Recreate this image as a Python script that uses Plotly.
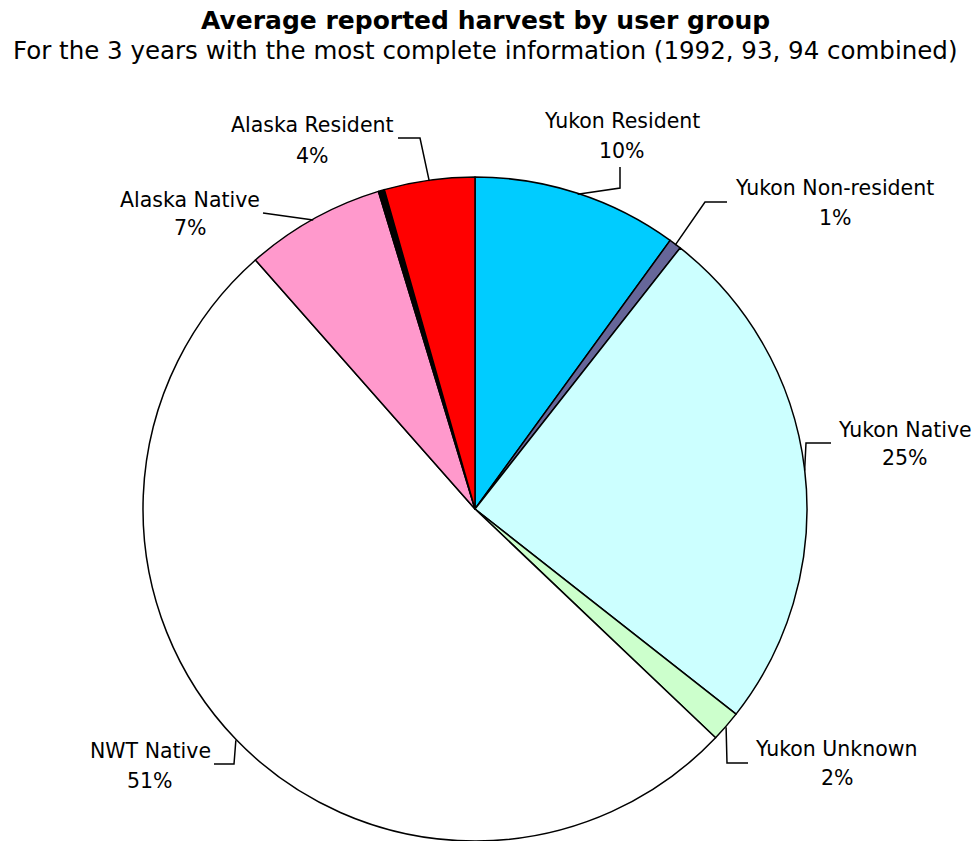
import math
import plotly.graph_objects as go

# Average reported harvest share by user group, 1992-94 combined (%)
groups = ["Yukon Resident", "Yukon Non-resident", "Yukon Native", "Yukon Unknown",
          "NWT Native", "Alaska Native", "Alaska Non-resident", "Alaska Resident"]
shares = [10.0, 0.6, 25.0, 1.5, 51.4, 6.8, 0.3, 4.4]
colors = ["#00CCFF", "#666699", "#CCFFFF", "#CCFFCC",
          "#FFFFFF", "#FF99CC", "#000000", "#FF0000"]
labelled = [True, True, True, True, True, True, False, True]

W, H = 977, 841
FONT = "DejaVu Sans"

# pie placement in pixels
CX, CY, R = 475, 510, 332


def px(x, y):
    return x / W, 1 - y / H


# label name centre, percent centre, leader elbow, leader end (pixels)
label_layout = {
    "Yukon Resident": ((622, 121), (622, 151), (620, 188), (620, 167)),
    "Yukon Non-resident": ((834, 188), (835, 218), (705, 202), (727, 202)),
    "Yukon Native": ((905, 430), (905, 458), (806, 443), (831, 443)),
    "Yukon Unknown": ((836, 749), (837, 778), (727, 763), (748, 763)),
    "NWT Native": ((150, 751), (150, 781), (234, 764), (214, 764)),
    "Alaska Native": ((190, 200), (190, 228), (263, 213), (263, 213)),
    "Alaska Resident": ((312, 125), (312, 156), (420, 138), (398, 138)),
}

fig = go.Figure(go.Pie(
    labels=groups,
    values=shares,
    sort=False,
    direction="clockwise",
    rotation=0,
    textinfo="none",
    hoverinfo="label+percent",
    marker=dict(colors=colors, line=dict(color="#000000", width=1.5)),
    domain=dict(x=[(CX - R) / W, (CX + R) / W], y=[0, 2 * R / H]),
    showlegend=False,
))

total = sum(shares)
annotations = []
shapes = []
cum = 0.0
for name, val, lab in zip(groups, shares, labelled):
    mid = (cum + val / 2) / total * 2 * math.pi
    cum += val
    if not lab:
        continue
    name_pos, pct_pos, elbow, end = label_layout[name]
    sx = CX + R * math.sin(mid)
    sy = CY - R * math.cos(mid)
    pts = [(sx, sy), elbow, end]
    path = "M " + " L ".join(f"{px(x, y)[0]},{px(x, y)[1]}" for x, y in pts)
    shapes.append(dict(type="path", xref="paper", yref="paper", path=path,
                       line=dict(color="#000000", width=1.5)))
    pct = round(val / total * 100)
    for text, (x, y) in ((name, name_pos), (f"{pct}%", pct_pos)):
        ax, ay = px(x, y)
        annotations.append(dict(text=text, x=ax, y=ay, xref="paper", yref="paper",
                                showarrow=False, xanchor="center", yanchor="middle",
                                font=dict(family=FONT, size=20.5, color="#000000")))

tx, ty = px(485, 20)
annotations.append(dict(text="<b>Average reported harvest by user group</b>", x=tx, y=ty,
                        xref="paper", yref="paper", showarrow=False,
                        xanchor="center", yanchor="middle",
                        font=dict(family=FONT, size=25, color="#000000")))
sx_, sy_ = px(485, 50)
annotations.append(dict(text="For the 3 years with the most complete information (1992, 93, 94 combined)",
                        x=sx_, y=sy_, xref="paper", yref="paper", showarrow=False,
                        xanchor="center", yanchor="middle",
                        font=dict(family=FONT, size=24.5, color="#000000")))

fig.update_layout(
    width=W, height=H,
    margin=dict(l=0, r=0, t=0, b=0),
    paper_bgcolor="#FFFFFF",
    plot_bgcolor="#FFFFFF",
    annotations=annotations,
    shapes=shapes,
)

fig.write_html("out.html")
